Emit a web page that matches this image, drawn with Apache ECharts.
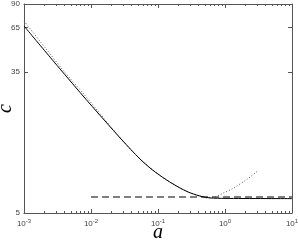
<!DOCTYPE html>
<html>
<head>
<meta charset="utf-8">
<script src="https://cdn.jsdelivr.net/npm/echarts@6/dist/echarts.min.js"></script>
<style>html,body{margin:0;padding:0;background:#fff}#chart{width:298px;height:242px}</style>
</head>
<body>
<div id="chart"></div>
<script>
// solid curve
const solidA = [0.001, 0.002444, 0.006854, 0.01618, 0.02903, 0.05387, 0.076, 0.1071, 0.1675, 0.2709, 0.4235, 0.5974, 1, 10];
const solidC = [66.4, 43.2, 26.5, 17.85, 13.72, 10.55, 9.32, 8.4, 7.47, 6.73, 6.32, 6.16, 6.12, 6.1];
// dotted curve
const dottedA = [0.001, 0.00206, 0.00409, 0.00813, 0.02903, 0.05387, 0.1071, 0.1675, 0.2709, 0.4235, 0.5386, 0.7087, 0.9336, 1.315, 2.13, 3.11];
const dottedC = [71.1, 49.3, 34.9, 25.4, 13.72, 10.55, 8.4, 7.47, 6.73, 6.32, 6.16, 6.26, 6.57, 7.03, 7.97, 8.97];
// dashed level
const dashedA = [0.01, 10];
const dashedC = [6.24, 6.24];

// ticks
const xMajor = [0.001, 0.01, 0.1, 1, 10];
const xExp = ['-3', '-2', '-1', '0', '1'];
const xMinorMult = [2, 3, 4, 5, 6, 7, 8, 9];
const xMinor = [];
xMajor.slice(0, -1).forEach(d => xMinorMult.forEach(m => xMinor.push(d * m)));
const yTicks = [5, 35, 65, 90];

const lineCol = '#555';
const txtCol = '#444';

const pairs = (a, c) => a.map((v, i) => [v, c[i]]);

function xAx(pos, ticks, len, main) {
    return {
        type: 'log', min: 0.001, max: 10, position: pos, gridIndex: 0,
        axisLine: { show: main, onZero: false, lineStyle: { color: lineCol, width: 1 } },
        axisTick: { inside: true, length: len, customValues: ticks, lineStyle: { color: lineCol } },
        axisLabel: { show: false },
        splitLine: { show: false }
    };
}
function yAx(pos, len) {
    return {
        type: 'log', min: 5, max: 90, position: pos,
        axisLine: { show: true, onZero: false, lineStyle: { color: lineCol, width: 1 } },
        axisTick: { inside: true, length: len, customValues: yTicks, lineStyle: { color: lineCol } },
        axisLabel: { show: false },
        splitLine: { show: false }
    };
}

const xBottom = xAx('bottom', xMajor, 4, true);
xBottom.axisLabel = {
    show: true, customValues: xMajor, margin: 5,
    formatter: v => {
        const i = xMajor.findIndex(t => Math.abs(Math.log10(t) - Math.log10(v)) < 1e-6);
        return '{b|10}{s|' + xExp[i] + '}';
    },
    rich: {
        b: { fontSize: 8, fontFamily: 'Liberation Sans', color: txtCol },
        s: { fontSize: 6, fontFamily: 'Liberation Sans', color: txtCol, padding: [0, 0, 5, 0] }
    }
};
xBottom.name = 'a';
xBottom.nameLocation = 'middle';
xBottom.nameGap = 10;
xBottom.nameMoveOverlap = false;
xBottom.nameTextStyle = { fontFamily: 'Liberation Serif', fontStyle: 'italic', fontSize: 20, color: '#000' };

const yLeft = yAx('left', 4);
yLeft.axisLabel = { show: true, customValues: yTicks, margin: 4, fontSize: 8, fontFamily: 'Liberation Sans', color: txtCol };
yLeft.name = 'c';
yLeft.nameLocation = 'middle';
yLeft.nameGap = 8;
yLeft.nameRotate = 90;
yLeft.nameMoveOverlap = false;
yLeft.nameTextStyle = { fontFamily: 'Liberation Serif', fontStyle: 'italic', fontSize: 20, color: '#000' };

const option = {
    animation: false,
    grid: { left: 24, right: 6, top: 4, bottom: 29, containLabel: false, outerBoundsMode: 'none' },
    xAxis: [
        xBottom,
        xAx('bottom', xMinor, 2, false),
        xAx('top', xMajor, 4, true),
        xAx('top', xMinor, 2, false)
    ],
    yAxis: [yLeft, yAx('right', 4)],
    series: [
        {
            type: 'line', data: pairs(dashedA, dashedC), symbol: 'none',
            lineStyle: { color: '#000', width: 1.2, type: [7, 4] }
        },
        {
            type: 'line', data: pairs(dottedA, dottedC), symbol: 'none', smooth: 0.3,
            lineStyle: { color: '#555', width: 1, type: [1, 2] }
        },
        {
            type: 'line', data: pairs(solidA, solidC), symbol: 'none', smooth: 0.3,
            lineStyle: { color: '#000', width: 1 }
        }
    ]
};

const chart = echarts.init(document.getElementById('chart'));
chart.setOption(option);
</script>
</body>
</html>
